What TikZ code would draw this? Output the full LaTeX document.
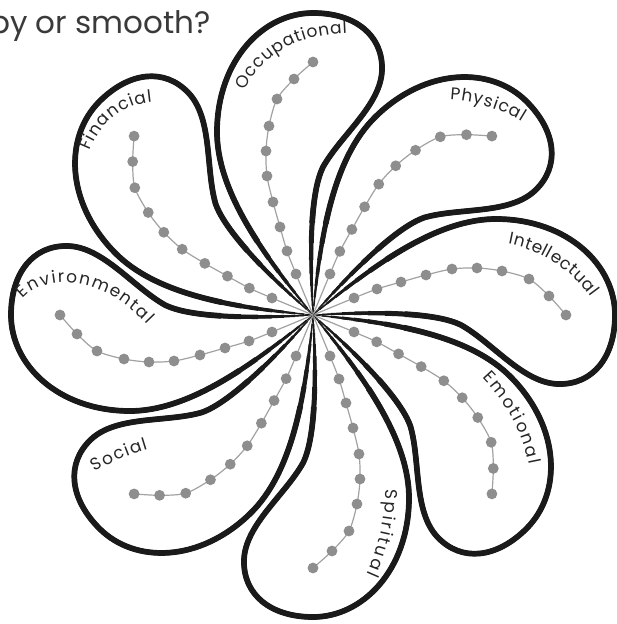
\documentclass[tikz,border=0pt]{standalone}
\usepackage{fontspec}
\setmainfont{Poppins}
\usetikzlibrary{decorations.text}
\definecolor{dotgray}{HTML}{8E8E8E}
\definecolor{linegray}{HTML}{A2A2A2}
\definecolor{ink}{HTML}{1A1A1A}
\definecolor{labelink}{HTML}{262626}
\definecolor{titleink}{HTML}{3A3A3A}
\tikzset{
  petaloutline/.style={insert path={(0,0) .. controls (-50,-60) and (-97,-125) .. (-96,-185)
     .. controls (-95,-255) and (-50,-302) .. (0,-302)
     .. controls (42,-302) and (70,-280) .. (69,-245)
     .. controls (68,-210) and (28,-180) .. (10,-148)
     .. controls (-4,-120) and (-3,-50) .. (0,0)}},
  inkline/.style={draw=ink, line cap=round, line join=round},
  petal/.pic={
    \draw[inkline, line width=0.9pt, petaloutline];
    \begin{scope}[even odd rule]
      \clip (-400,-400) rectangle (400,400) (0,0) circle (9);
      \draw[inkline, line width=1.5pt, petaloutline];
    \end{scope}
    \begin{scope}[even odd rule]
      \clip (-400,-400) rectangle (400,400) (0,0) circle (18);
      \draw[inkline, line width=2.2pt, petaloutline];
    \end{scope}
    \begin{scope}[even odd rule]
      \clip (-400,-400) rectangle (400,400) (0,0) circle (29);
      \draw[inkline, line width=2.9pt, petaloutline];
    \end{scope}
    \begin{scope}[even odd rule]
      \clip (-400,-400) rectangle (400,400) (0,0) circle (41);
      \draw[inkline, line width=3.6pt, petaloutline];
    \end{scope}
    \begin{scope}[even odd rule]
      \clip (-400,-400) rectangle (400,400) (0,0) circle (55);
      \draw[inkline, line width=4.3pt, petaloutline];
    \end{scope}
    \begin{scope}[even odd rule]
      \clip (-400,-400) rectangle (400,400) (0,0) circle (72);
      \draw[inkline, line width=5.0pt, petaloutline];
    \end{scope}
    \begin{scope}[even odd rule]
      \clip (-400,-400) rectangle (400,400) (0,0) circle (92);
      \draw[inkline, line width=5.7pt, petaloutline];
    \end{scope}
  },
  dotchain/.pic={
    \draw[linegray, line width=1.2pt] plot[smooth] coordinates {(0,0) (-17,-41) (-26,-64) (-33,-88) (-40,-113) (-46,-139) (-47,-164) (-44,-189) (-36,-216) (-19,-236) (0,-253)};
    \fill[dotgray] (-17,-41) circle (5.4) (-26,-64) circle (5.4) (-33,-88) circle (5.4)
      (-40,-113) circle (5.4) (-46,-139) circle (5.4) (-47,-164) circle (5.4)
      (-44,-189) circle (5.4) (-36,-216) circle (5.4) (-19,-236) circle (5.4) (0,-253) circle (5.4);
  },
  lbl/.style={decorate, decoration={text along path, text align={fit to path}, text color=labelink, text={|\fontsize{17}{17}\selectfont|#1}}}
}
\begin{document}
\begin{tikzpicture}[x=1pt,y=-1pt]
\useasboundingbox (0,0) rectangle (616,624);
\fill[white] (0,0) rectangle (616,624);
\node[anchor=base east, font=\fontsize{31}{31}\selectfont, text=titleink, inner sep=0pt] (title) at (211,33) {py or smooth?};
\coordinate (center) at (313,315);
\pic[rotate=0] (occpetal) at (center) {petal};
\pic[rotate=0] (occdots) at (center) {dotchain};
\pic[rotate=-45] (phypetal) at (center) {petal};
\pic[rotate=-45] (phydots) at (center) {dotchain};
\pic[rotate=-90] (intpetal) at (center) {petal};
\pic[rotate=-90] (intdots) at (center) {dotchain};
\pic[rotate=-135] (emopetal) at (center) {petal};
\pic[rotate=-135] (emodots) at (center) {dotchain};
\pic[rotate=-180] (spipetal) at (center) {petal};
\pic[rotate=-180] (spidots) at (center) {dotchain};
\pic[rotate=-225] (socpetal) at (center) {petal};
\pic[rotate=-225] (socdots) at (center) {dotchain};
\pic[rotate=-270] (envpetal) at (center) {petal};
\pic[rotate=-270] (envdots) at (center) {dotchain};
\pic[rotate=-315] (finpetal) at (center) {petal};
\pic[rotate=-315] (findots) at (center) {dotchain};
% labels
\path[lbl=Occupational] (245,91) .. controls (261,58) and (292,35) .. (347,33);
\path[lbl=Physical] (450,100) .. controls (472,101) and (500,108) .. (522,122);
\path[lbl=Intellectual] (508,244) .. controls (535,249) and (568,265) .. (591,297);
\path[lbl=Emotional] (482,378) .. controls (503,400) and (522,428) .. (529,465);
\path[lbl=Spiritual] (385,489) .. controls (386,515) and (380,545) .. (367,574);
\path[lbl=Social] (95,472) .. controls (112,462) and (128,455) .. (148,449);
\path[lbl=Environmental] (23,299) .. controls (45,274) and (100,274) .. (147,324);
\path[lbl=Financial] (90,151) .. controls (100,125) and (120,105) .. (152,102);
\end{tikzpicture}
\end{document}
